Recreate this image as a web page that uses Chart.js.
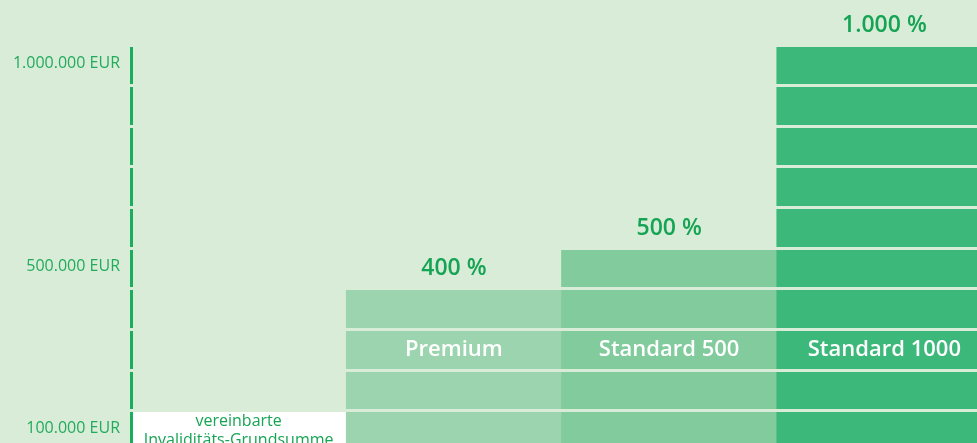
<!DOCTYPE html>
<html>
<head>
<meta charset="utf-8">
<script src="https://cdn.jsdelivr.net/npm/chart.js@4"></script>
<style>
  html, body { margin: 0; padding: 0; background: #d9ecd7; overflow: hidden; }
  #wrap { width: 977px; height: 443px; overflow: hidden; }
  canvas { display: block; }
</style>
</head>
<body>
<div id="wrap"><canvas id="chart" width="992" height="469"></canvas></div>
<script>
// chart data
const categories = ['Grundsumme', 'Premium', 'Standard 500', 'Standard 1000'];
const sums = [100000, 400000, 500000, 1000000];
const percentLabels = ['', '400 %', '500 %', '1.000 %'];
const barLabels = [['vereinbarte', 'Invaliditäts-Grundsumme'], ['Premium'], ['Standard 500'], ['Standard 1000']];
const yTickLabels = { 1000000: '1.000.000 EUR', 500000: '500.000 EUR', 100000: '100.000 EUR' };
const barLabelValue = 250000;

const bgColor = '#d9ecd7';
const green = '#16a454';
const axisGreen = '#1aad5c';
const barColors = ['#ffffff', '#9bd4ae', '#81cb9c', '#3cb97a'];

const barTexts = {
    id: 'barTexts',
    afterDraw(chart) {
        const ctx = chart.ctx;
        const xScale = chart.scales.x;
        const yScale = chart.scales.y;
        ctx.save();
        ctx.textAlign = 'center';
        categories.forEach((cat, i) => {
            const cx = xScale.getPixelForValue(i);
            const top = yScale.getPixelForValue(sums[i]);
            if (percentLabels[i]) {
                ctx.font = '600 23px "Open Sans"';
                ctx.fillStyle = green;
                ctx.textBaseline = 'middle';
                ctx.fillText(percentLabels[i], cx, top - 20);
            }
            const lines = barLabels[i];
            if (i === 0) {
                // white bar gets green text
                ctx.font = '16px "Open Sans"';
                ctx.fillStyle = green;
                ctx.textBaseline = 'alphabetic';
                lines.forEach((line, j) => ctx.fillText(line, cx, top + 15 + j * 19));
            } else {
                ctx.font = '600 22px "Open Sans"';
                ctx.fillStyle = '#ffffff';
                ctx.textBaseline = 'middle';
                ctx.fillText(lines[0], cx, yScale.getPixelForValue(barLabelValue));
            }
        });
        ctx.restore();
    }
};

new Chart(document.getElementById('chart'), {
    type: 'bar',
    data: {
        labels: categories,
        datasets: [{
            data: sums,
            backgroundColor: barColors,
            borderWidth: 0,
            barPercentage: 1,
            categoryPercentage: 1
        }]
    },
    options: {
        responsive: false,
        animation: false,
        layout: { padding: { top: 45, left: 0, right: 0, bottom: 0 } },
        plugins: {
            legend: { display: false },
            tooltip: { enabled: false }
        },
        scales: {
            x: {
                // only the left grid line is shown: it acts as the axis line
                border: { display: false },
                ticks: { display: false },
                grid: {
                    drawTicks: false,
                    lineWidth: 3,
                    z: 1,
                    color: (c) => c.index === 0 ? axisGreen : 'rgba(0,0,0,0)'
                }
            },
            y: {
                min: 0,
                max: 1000000,
                afterFit: (scale) => { scale.width = 131; },
                border: { display: false },
                grid: {
                    color: bgColor,
                    lineWidth: 3,
                    z: 2,
                    drawTicks: true,
                    tickLength: 3,
                    tickColor: bgColor,
                    tickWidth: 3
                },
                ticks: {
                    stepSize: 100000,
                    autoSkip: false,
                    padding: 8,
                    labelOffset: 18,
                    color: '#22ab5d',
                    font: { family: 'Open Sans', size: 16 },
                    callback: (v) => yTickLabels[v] || ''
                }
            }
        }
    },
    plugins: [barTexts]
});
</script>
</body>
</html>
